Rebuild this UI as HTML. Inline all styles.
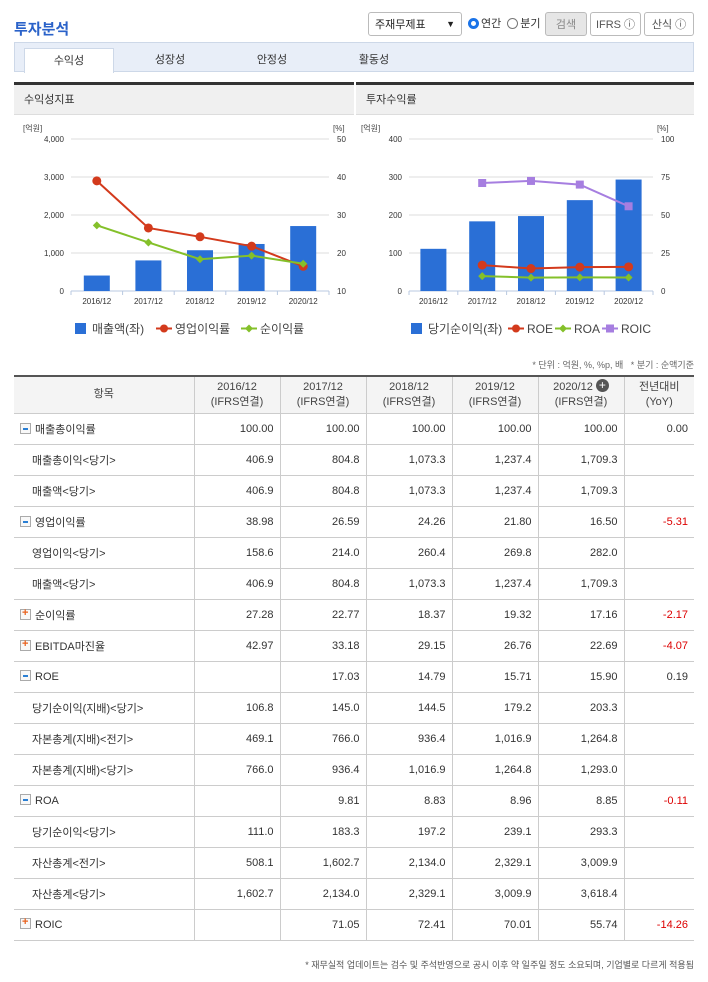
<!DOCTYPE html>
<html><head><meta charset="utf-8">
<style>
*{box-sizing:border-box;margin:0;padding:0}
body{width:708px;height:982px;background:#fff;font-family:"Liberation Sans","Noto Sans CJK KR",sans-serif;color:#333;position:relative;overflow:hidden}
.abs{position:absolute}
#title{left:14px;top:18px;font-size:15px;font-weight:bold;color:#2a62c9}
.ctl{top:12px;height:24px;border:1px solid #bbb;border-radius:3px;font-size:11px;display:flex;align-items:center;justify-content:center;background:#fff;color:#555}
#tabs{left:14px;top:42px;width:680px;height:30px;background:#e8eef8;border:1px solid #cdd8e8}
.tab{position:absolute;top:5px;height:25px;font-size:11px;text-align:center;line-height:24px;width:90px;color:#333}
.tab.on{background:#fff;border:1px solid #cdd8e8;border-bottom:none}
.panel{top:82px;height:258px;border-top:3px solid #333}
.phead{height:30px;background:#f0f0f0;border-bottom:1px solid #ddd;font-size:11px;line-height:30px;padding-left:10px}
table{position:absolute;left:14px;top:375px;width:680px;border-collapse:collapse;font-size:11px;border-top:2px solid #555}
td,th{border-right:1px solid #ccc;border-bottom:1px solid #ccc;height:31px;text-align:right;padding-right:6px;font-weight:normal}
td:last-child,th:last-child{border-right:none}
th{background:#f4f4f4;text-align:center;padding:0;height:37px;line-height:15px;color:#444}
td.n{text-align:left;padding-left:6px}
td.s{padding-left:18px}
.neg{color:#d00}
.ib{display:inline-block;width:11px;height:11px;border:1px solid #aaa;vertical-align:-1px;margin-right:4px;position:relative;background:#f8f8f8}
.ib.m::after{content:"";position:absolute;left:2px;top:4px;width:5px;height:2px;background:#2a7fd4}
.ib.p::after{content:"+";position:absolute;left:1px;top:-3px;font-size:11px;font-weight:bold;color:#e8601c}
</style></head><body>
<div id="title" class="abs">투자분석</div>
<div class="abs ctl" style="left:368px;width:94px;justify-content:space-between;padding:0 6px;color:#222">주재무제표 <span style="font-size:9px">▼</span></div>
<div class="abs" style="left:468px;top:15px;font-size:11px;display:flex;align-items:center;gap:2px"><span style="display:inline-block;width:11px;height:11px;border-radius:50%;border:3px solid #1a73e8"></span>연간 <span style="display:inline-block;width:11px;height:11px;border-radius:50%;border:1px solid #777;margin-left:4px"></span>분기</div>
<div class="abs ctl" style="left:545px;width:42px;background:#e6e6e6;color:#888">검색</div>
<div class="abs ctl" style="left:590px;width:51px">IFRS ⓘ</div>
<div class="abs ctl" style="left:644px;width:50px">산식 ⓘ</div>
<div id="tabs" class="abs">
<div class="tab on" style="left:9px">수익성</div>
<div class="tab" style="left:110px">성장성</div>
<div class="tab" style="left:212px">안정성</div>
<div class="tab" style="left:314px">활동성</div>
</div>
<div class="abs panel" style="left:14px;width:340px"><div class="phead">수익성지표</div></div>
<div class="abs panel" style="left:356px;width:338px"><div class="phead">투자수익률</div></div>
<svg id="c1" class="abs" style="left:0;top:0" width="708" height="345"></svg>
<div class="abs" style="right:14px;top:358px;font-size:9px;color:#666">* 단위 : 억원, %, %p, 배 &nbsp; * 분기 : 순액기준</div>
<table>
<colgroup><col style="width:180px"><col style="width:86px"><col style="width:86px"><col style="width:86px"><col style="width:86px"><col style="width:86px"><col style="width:70px"></colgroup>
<thead><tr><th>항목</th><th>2016/12<br>(IFRS연결)</th><th>2017/12<br>(IFRS연결)</th><th>2018/12<br>(IFRS연결)</th><th>2019/12<br>(IFRS연결)</th><th>2020/12 <span style="display:inline-block;width:13px;height:13px;border-radius:50%;background:#555;color:#fff;font-size:12px;line-height:13px;vertical-align:1px">+</span><br>(IFRS연결)</th><th>전년대비<br>(YoY)</th></tr></thead>
<tbody id="tb"></tbody></table>
<div class="abs" style="right:14px;top:958px;font-size:9px;color:#555">* 재무실적 업데이트는 검수 및 주석반영으로 공시 이후 약 일주일 정도 소요되며, 기업별로 다르게 적용됨</div>
<script>
const years=["2016/12","2017/12","2018/12","2019/12","2020/12"];
const sales=[406.9,804.8,1073.3,1237.4,1709.3];
const opMargin=[38.98,26.59,24.26,21.80,16.50];
const netMargin=[27.28,22.77,18.37,19.32,17.16];
const netIncome=[111.0,183.3,197.2,239.1,293.3];
const roe=[null,17.03,14.79,15.71,15.90];
const roa=[null,9.81,8.83,8.96,8.85];
const roic=[null,71.05,72.41,70.01,55.74];
const leftTicks1=["0","1,000","2,000","3,000","4,000"];
const rightTicks1=["10","20","30","40","50"];
const leftTicks2=["0","100","200","300","400"];
const rightTicks2=["0","25","50","75","100"];
const svg=document.getElementById('c1');
const NS="http://www.w3.org/2000/svg";
function el(t,a,txt){const e=document.createElementNS(NS,t);for(const k in a)e.setAttribute(k,a[k]);if(txt!==undefined)e.textContent=txt;svg.appendChild(e);return e;}
function chart(o){
 const top=139,bot=291,h=bot-top,step=(o.x1-o.x0)/5;
 const yl=v=>bot-(v-o.lmin)/(o.lmax-o.lmin)*h, yr=v=>bot-(v-o.rmin)/(o.rmax-o.rmin)*h, xc=i=>o.x0+step*(i+0.5);
 el('text',{x:o.x0-48,y:131,'font-size':8,fill:'#444'},'[억원]');
 el('text',{x:o.x1+4,y:131,'font-size':8,fill:'#444'},'[%]');
 for(let i=0;i<5;i++){const y=bot-i*h/4;
  const g=el('line',{x1:o.x0,x2:o.x1,y1:y,y2:y,stroke:i?'#ddd':'#b8c8e0'});
  el('text',{x:o.x0-7,y:y+3,'font-size':8,'text-anchor':'end',fill:'#333'},o.lt[i]);
  el('text',{x:o.x1+8,y:y+3,'font-size':8,fill:'#333'},o.rt[i]);}
 for(let i=0;i<=5;i++)el('line',{x1:o.x0+step*i,x2:o.x0+step*i,y1:bot,y2:bot+4,stroke:'#b8c8e0'});
 years.forEach((y,i)=>el('text',{x:xc(i),y:bot+13,'font-size':8,'text-anchor':'middle',fill:'#333'},y));
 o.bars.forEach((v,i)=>{const r=el('rect',{x:xc(i)-13,y:yl(v),width:26,height:bot-yl(v),fill:'#2a6fd6'});
  });
 o.lines.forEach(L=>{let pts=[];L.d.forEach((v,i)=>{if(v!==null)pts.push([xc(i),yr(v)]);});
  const p=el('polyline',{points:pts.map(p=>p.join(',')).join(' '),fill:'none',stroke:L.c,'stroke-width':2});
  
  pts.forEach(q=>{let m;
   if(L.s==='c')m=el('circle',{cx:q[0],cy:q[1],r:4.5,fill:L.c});
   else if(L.s==='d')m=el('polygon',{points:`${q[0]},${q[1]-4} ${q[0]+4},${q[1]} ${q[0]},${q[1]+4} ${q[0]-4},${q[1]}`,fill:L.c});
   else m=el('rect',{x:q[0]-4,y:q[1]-4,width:8,height:8,fill:L.c});
   });});
 let lx=o.legx;
 o.leg.forEach(g=>{
  if(g.s==='b')el('rect',{x:lx,y:323,width:11,height:11,fill:'#2a6fd6'});
  else{el('line',{x1:lx-2,x2:lx+14,y1:328.5,y2:328.5,stroke:g.c,'stroke-width':2});
   if(g.s==='c')el('circle',{cx:lx+6,cy:328.5,r:4,fill:g.c});else if(g.s==='d')el('polygon',{points:`${lx+6},324.5 ${lx+10},328.5 ${lx+6},332.5 ${lx+2},328.5`,fill:g.c});else el('rect',{x:lx+2,y:324.5,width:8,height:8,fill:g.c});}
  el('text',{x:lx+17,y:333,'font-size':12,fill:'#444'},g.n);lx+=17+g.w;});
}
chart({x0:71,x1:329,lmin:0,lmax:4000,rmin:10,rmax:50,lt:leftTicks1,rt:rightTicks1,bars:sales,
 lines:[{n:'op-margin',d:opMargin,c:'#d33a1c',s:'c'},{n:'net-margin',d:netMargin,c:'#84c02a',s:'d'}],
 legx:75,leg:[{n:'매출액(좌)',s:'b',w:66},{n:'영업이익률',c:'#d33a1c',s:'c',w:68},{n:'순이익률',c:'#84c02a',s:'d',w:60}]});
chart({x0:409,x1:653,lmin:0,lmax:400,rmin:0,rmax:100,lt:leftTicks2,rt:rightTicks2,bars:netIncome,
 lines:[{n:'roic',d:roic,c:'#a67ee0',s:'s'},{n:'roe',d:roe,c:'#d33a1c',s:'c'},{n:'roa',d:roa,c:'#84c02a',s:'d'}],
 legx:411,leg:[{n:'당기순이익(좌)',s:'b',w:82},{n:'ROE',c:'#d33a1c',s:'c',w:30},{n:'ROA',c:'#84c02a',s:'d',w:30},{n:'ROIC',c:'#a67ee0',s:'s',w:30}]});
const rows=[
["m","매출총이익률","100.00","100.00","100.00","100.00","100.00","0.00"],
["s","매출총이익<당기>","406.9","804.8","1,073.3","1,237.4","1,709.3",""],
["s","매출액<당기>","406.9","804.8","1,073.3","1,237.4","1,709.3",""],
["m","영업이익률","38.98","26.59","24.26","21.80","16.50","-5.31"],
["s","영업이익<당기>","158.6","214.0","260.4","269.8","282.0",""],
["s","매출액<당기>","406.9","804.8","1,073.3","1,237.4","1,709.3",""],
["p","순이익률","27.28","22.77","18.37","19.32","17.16","-2.17"],
["p","EBITDA마진율","42.97","33.18","29.15","26.76","22.69","-4.07"],
["m","ROE","","17.03","14.79","15.71","15.90","0.19"],
["s","당기순이익(지배)<당기>","106.8","145.0","144.5","179.2","203.3",""],
["s","자본총계(지배)<전기>","469.1","766.0","936.4","1,016.9","1,264.8",""],
["s","자본총계(지배)<당기>","766.0","936.4","1,016.9","1,264.8","1,293.0",""],
["m","ROA","","9.81","8.83","8.96","8.85","-0.11"],
["s","당기순이익<당기>","111.0","183.3","197.2","239.1","293.3",""],
["s","자산총계<전기>","508.1","1,602.7","2,134.0","2,329.1","3,009.9",""],
["s","자산총계<당기>","1,602.7","2,134.0","2,329.1","3,009.9","3,618.4",""],
["p","ROIC","","71.05","72.41","70.01","55.74","-14.26"]];
const tb=document.getElementById('tb');
rows.forEach(r=>{const tr=document.createElement('tr');
 
 
 let h=r[0]==='s'?`<td class="n s">${r[1].replace(/</g,'&lt;').replace(/>/g,'&gt;')}</td>`:`<td class="n"><span class="ib ${r[0]}"></span>${r[1]}</td>`;
 for(let i=2;i<8;i++)h+=`<td${i===7&&r[i].startsWith('-')?' class="neg"':''}>${r[i]}</td>`;
 tr.innerHTML=h;tb.appendChild(tr);});
</script>
</body></html>
